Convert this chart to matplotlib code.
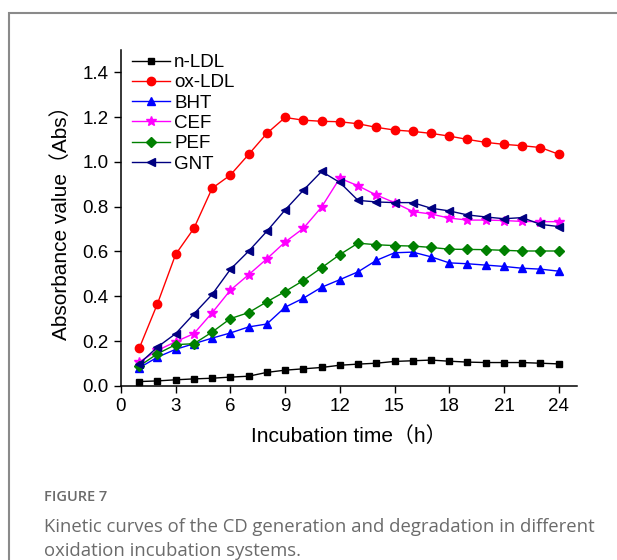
import matplotlib
matplotlib.use("Agg")
import matplotlib.pyplot as plt
from matplotlib.patches import Rectangle

hours = list(range(1, 25))

n_ldl = [0.019, 0.022, 0.027, 0.031, 0.034, 0.039, 0.043, 0.060, 0.070, 0.076, 0.082, 0.092,
         0.097, 0.101, 0.109, 0.112, 0.115, 0.110, 0.106, 0.104, 0.104, 0.104, 0.101, 0.098]
ox_ldl = [0.167, 0.366, 0.587, 0.703, 0.882, 0.941, 1.033, 1.127, 1.198, 1.186, 1.181, 1.179,
          1.170, 1.154, 1.142, 1.136, 1.127, 1.115, 1.100, 1.087, 1.078, 1.072, 1.064, 1.034]
bht = [0.080, 0.128, 0.163, 0.188, 0.213, 0.236, 0.263, 0.276, 0.351, 0.391, 0.440, 0.474,
       0.509, 0.560, 0.594, 0.597, 0.576, 0.549, 0.545, 0.539, 0.533, 0.525, 0.521, 0.512]
cef = [0.106, 0.158, 0.197, 0.233, 0.326, 0.427, 0.496, 0.567, 0.642, 0.703, 0.798, 0.927,
       0.893, 0.852, 0.818, 0.778, 0.767, 0.749, 0.740, 0.740, 0.738, 0.734, 0.733, 0.733]
pef = [0.088, 0.143, 0.184, 0.188, 0.240, 0.300, 0.327, 0.375, 0.421, 0.470, 0.527, 0.586,
       0.637, 0.630, 0.626, 0.624, 0.618, 0.610, 0.609, 0.608, 0.605, 0.602, 0.602, 0.602]
gnt = [0.098, 0.173, 0.233, 0.321, 0.408, 0.520, 0.601, 0.690, 0.785, 0.873, 0.957, 0.908,
       0.828, 0.821, 0.818, 0.818, 0.793, 0.781, 0.763, 0.754, 0.746, 0.751, 0.721, 0.711]

series = [
    ("n-LDL", n_ldl, "black", "s", 5),
    ("ox-LDL", ox_ldl, "red", "o", 6),
    ("BHT", bht, "blue", "^", 6),
    ("CEF", cef, "magenta", "*", 7),
    ("PEF", pef, "green", "D", 5),
    ("GNT", gnt, "navy", "<", 6),
]

lab_font = ["Liberation Sans", "Noto Sans CJK SC"]
plt.rcParams["font.family"] = lab_font

fig = plt.figure(figsize=(6.17, 5.6), dpi=100)
ax = fig.add_axes([0.196, 0.311, 0.739, 0.600])

for name, vals, col, mk, ms in series:
    ax.plot(hours, vals, color=col, marker=mk, markersize=ms, lw=1.0, label=name)

ax.set_xlim(0, 25)
ax.set_ylim(0, 1.5)
ax.set_xticks(range(0, 25, 3))
ax.set_yticks([0.0, 0.2, 0.4, 0.6, 0.8, 1.0, 1.2, 1.4])
ax.set_yticklabels(["0.0", "0.2", "0.4", "0.6", "0.8", "1.0", "1.2", "1.4"])
ax.tick_params(direction="out", length=5, width=1, labelsize=13.5, pad=4)
for s in ["top", "right"]:
    ax.spines[s].set_visible(False)
for s in ["left", "bottom"]:
    ax.spines[s].set_linewidth(1.1)

ax.set_xlabel("Incubation time（h）", fontsize=15, labelpad=8)
ax.set_ylabel("Absorbance value（Abs）", fontsize=15, labelpad=8)

ax.legend(loc="upper left", frameon=False, fontsize=13.5, handlelength=2.0,
          handletextpad=0.25, labelspacing=0.17, borderaxespad=0.0,
          bbox_to_anchor=(0.008, 1.01))

# grey frame around the panel
fig.patches.append(Rectangle((9 / 617, -0.1), 1.2, 1 - 13 / 560 + 0.1,
                             transform=fig.transFigure, fill=False,
                             edgecolor="#8a8a8a", lw=1.5))

fig.text(44 / 617, 1 - 497 / 560, "FIGURE 7", fontsize=10.5, color="#6b6b6b",
         family="Open Sans", weight="semibold", va="center")
fig.text(44 / 617, 1 - 539 / 560,
         "Kinetic curves of the CD generation and degradation in different\n"
         "oxidation incubation systems.",
         fontsize=13.3, color="#6b6b6b", family="Open Sans", va="center",
         linespacing=1.4)

fig.savefig("out.png", dpi=100)
